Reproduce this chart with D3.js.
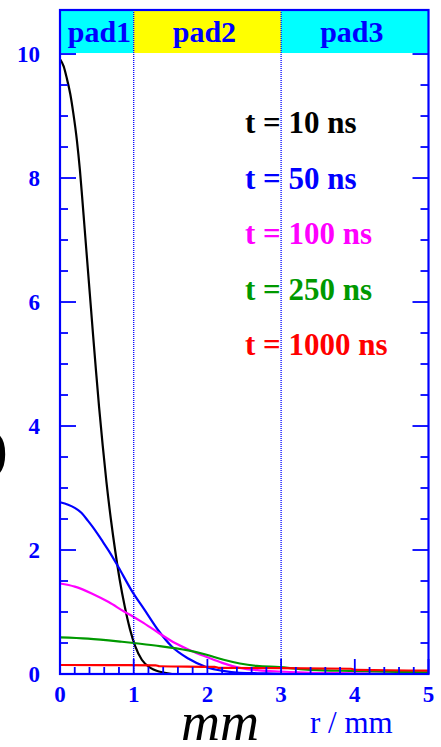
<!DOCTYPE html>
<html><head><meta charset="utf-8">
<script src="https://cdn.jsdelivr.net/npm/d3@7"></script>
<style>body{margin:0;background:#fff;} svg{display:block;}</style>
</head><body>
<svg id="c" width="441" height="747"></svg>
<script>
// ---- data ----
const legendLabels = ["t = 10 ns", "t = 50 ns", "t = 100 ns", "t = 250 ns", "t = 1000 ns"];
const seriesColors = ["#000000", "#0000ff", "#ff00ff", "#009900", "#ff0000"];
const padLabels = ["pad1", "pad2", "pad3"];
const padEdges = [0, 1, 3, 5];
const padColors = ["#00ffff", "#ffff00", "#00ffff"];
const xTicks = [0, 1, 2, 3, 4, 5];
const yTicks = [0, 2, 4, 6, 8, 10];

const r10 = [0, 0.05, 0.09, 0.14, 0.18, 0.23, 0.27, 0.30, 0.33, 0.36, 0.39, 0.42, 0.45, 0.49, 0.53, 0.58, 0.63, 0.69, 0.75, 0.81, 0.88, 0.95, 1.02, 1.11, 1.24, 1.42, 1.52];
const v10 = [9.92, 9.8, 9.62, 9.35, 9.05, 8.6, 8.13, 7.7, 7.25, 6.8, 6.35, 5.9, 5.45, 4.87, 4.31, 3.68, 3.1, 2.5, 1.98, 1.52, 1.08, 0.72, 0.45, 0.23, 0.09, 0.02, 0.0];

const r50 = [0, 0.11, 0.2, 0.29, 0.38, 0.47, 0.56, 0.66, 0.79, 0.97, 1.15, 1.33, 1.52, 1.74, 1.99, 2.21, 2.44, 2.8, 3.2];
const v50 = [2.77, 2.73, 2.68, 2.6, 2.47, 2.33, 2.17, 1.99, 1.73, 1.35, 1.03, 0.71, 0.44, 0.25, 0.11, 0.05, 0.02, 0.01, 0.0];

const r100 = [0, 0.2, 0.43, 0.66, 0.88, 1.0, 1.11, 1.33, 1.56, 1.77, 2.0, 2.2, 2.44, 2.7, 3.0, 3.4, 4.0, 4.6];
const v100 = [1.46, 1.41, 1.3, 1.16, 1.0, 0.92, 0.84, 0.67, 0.5, 0.38, 0.27, 0.18, 0.1, 0.06, 0.04, 0.02, 0.01, 0.0];

const r250 = [0, 0.38, 0.84, 1.0, 1.29, 1.74, 1.99, 2.22, 2.44, 2.67, 2.98, 3.26, 3.57, 3.93, 4.3, 4.7, 5.0];
const v250 = [0.59, 0.57, 0.52, 0.5, 0.46, 0.38, 0.31, 0.23, 0.17, 0.13, 0.11, 0.08, 0.06, 0.05, 0.04, 0.03, 0.025];

const r1000 = [0, 0.6, 1.3, 1.35, 2.1, 2.15, 3.0, 3.95, 4.0, 5.0];
const v1000 = [0.145, 0.143, 0.14, 0.125, 0.115, 0.1, 0.095, 0.085, 0.065, 0.055];

const seriesR = [r10, r50, r100, r250, r1000];
const seriesV = [v10, v50, v100, v250, v1000];

// ---- layout ----
const svg = d3.select("#c");
const L = 60, R = 428.5, T = 10, B = 674;
const x = d3.scaleLinear().domain([0, 5]).range([L, R]);
const y = d3.scaleLinear().domain([0, 10.71]).range([B, T]);
const blue = "#0000ff";
const serif = "'Liberation Serif','Times New Roman',serif";
const padTextR = [0.535, 1.96, 3.96]; // text centres (layout)

// curves
const line = d3.line().x(d => x(d[0])).y(d => y(d[1])).curve(d3.curveMonotoneX);
seriesR.forEach((rs, i) => {
  const pts = rs.map((r, j) => [r, seriesV[i][j]]);
  svg.append("path").datum(pts).attr("d", line)
    .attr("fill", "none").attr("stroke", seriesColors[i]).attr("stroke-width", 2.2);
});

// ticks (inner, on all four sides)
const g = svg.append("g").attr("stroke", blue).attr("stroke-width", 1.8);
d3.range(0, 10.51, 0.5).forEach(v => {
  const major = Math.abs(v / 2 - Math.round(v / 2)) < 1e-6;
  const len = major ? 16 : 8;
  g.append("line").attr("x1", L).attr("x2", L + len).attr("y1", y(v)).attr("y2", y(v));
  g.append("line").attr("x1", R).attr("x2", R - len).attr("y1", y(v)).attr("y2", y(v));
});
d3.range(0, 5.01, 0.2).forEach(v => {
  const major = Math.abs(v - Math.round(v)) < 1e-6;
  const len = major ? 15 : 7;
  g.append("line").attr("x1", x(v)).attr("x2", x(v)).attr("y1", B).attr("y2", B - len);
});

// header pads
padLabels.forEach((p, i) => {
  svg.append("rect").attr("x", x(padEdges[i])).attr("y", T)
    .attr("width", x(padEdges[i + 1]) - x(padEdges[i])).attr("height", y(10) - 1 - T)
    .attr("fill", padColors[i]);
  svg.append("text").attr("x", x(padTextR[i])).attr("y", 42)
    .attr("text-anchor", "middle").attr("font-family", serif).attr("font-weight", "bold")
    .attr("font-size", 30).attr("fill", blue).text(p);
});

// dotted pad boundaries
[1, 3].forEach(v => {
  svg.append("line").attr("x1", x(v)).attr("x2", x(v)).attr("y1", T).attr("y2", B)
    .attr("stroke", blue).attr("stroke-width", 1.3).attr("stroke-dasharray", "1,1");
});

// frame
svg.append("rect").attr("x", L).attr("y", T).attr("width", R - L).attr("height", B - T)
  .attr("fill", "none").attr("stroke", blue).attr("stroke-width", 2.2);

// tick labels
yTicks.forEach(v => {
  svg.append("text").attr("x", 40).attr("y", y(v)).attr("dy", "0.35em")
    .attr("text-anchor", "end").attr("font-family", serif).attr("font-weight", "bold")
    .attr("font-size", 23).attr("fill", blue).text(v);
});
xTicks.forEach(v => {
  svg.append("text").attr("x", x(v)).attr("y", 702)
    .attr("text-anchor", "middle").attr("font-family", serif).attr("font-weight", "bold")
    .attr("font-size", 23).attr("fill", blue).text(v);
});

// legend
legendLabels.forEach((t, i) => {
  svg.append("text").attr("x", 245).attr("y", 133 + i * 55.5)
    .attr("font-family", serif).attr("font-weight", "bold").attr("font-size", 31)
    .attr("fill", seriesColors[i]).attr("xml:space", "preserve").text(t);
});

// axis titles
svg.append("text").attr("x", 310).attr("y", 733).attr("font-family", serif)
  .attr("font-size", 31).attr("fill", blue).text("r / mm");
svg.append("text").attr("x", 181).attr("y", 740).attr("font-family", serif)
  .attr("font-style", "italic").attr("font-size", 54).attr("fill", "#000").text("mm");
svg.append("text").attr("x", -11).attr("y", 468).attr("font-family", serif)
  .attr("font-size", 56).attr("fill", "#000").text(")");
</script>
</body></html>
